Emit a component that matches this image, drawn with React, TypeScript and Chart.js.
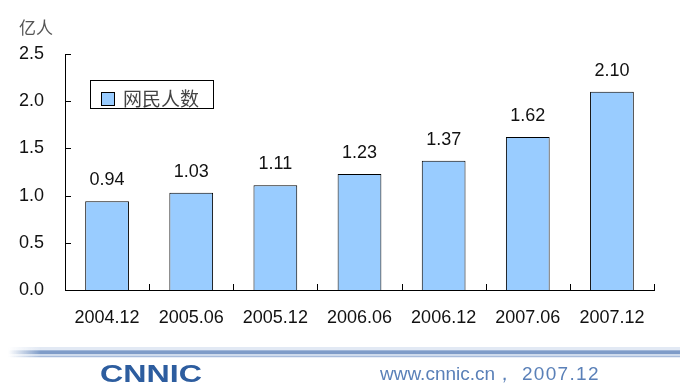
import React, { useEffect, useRef } from "react";
import { Chart, registerables } from "chart.js";

Chart.register(...registerables);

const categories = ["2004.12", "2005.06", "2005.12", "2006.06", "2006.12", "2007.06", "2007.12"];
const netizens = [0.94, 1.03, 1.11, 1.23, 1.37, 1.62, 2.1];
const seriesName = "网民人数";
const yUnit = "亿人";
const footerSite = "www.cnnic.cn，";
const footerDate = "2007.12";
const footerLogo = "CNNIC";

const FONT = "'Liberation Sans', Arial, sans-serif";
const CJK = "'Noto Sans CJK SC', sans-serif";

function hGrad(ctx: CanvasRenderingContext2D, color: string, colorClear: string) {
  const g = ctx.createLinearGradient(0, 0, 680, 0);
  g.addColorStop(0, colorClear);
  g.addColorStop(0.012, colorClear);
  g.addColorStop(0.06, color);
  g.addColorStop(1, color);
  return g;
}

const decorPlugin = {
  id: "decor",
  afterDatasetsDraw(chart: any) {
    const ctx = chart.ctx;
    const meta = chart.getDatasetMeta(0);
    ctx.save();
    ctx.font = `18px ${FONT}`;
    ctx.fillStyle = "#111";
    ctx.textAlign = "center";
    ctx.textBaseline = "middle";
    meta.data.forEach((bar: any, i: number) => {
      ctx.fillText(netizens[i].toFixed(2), bar.x, bar.y - 21);
    });
    ctx.restore();
  },
  afterDraw(chart: any) {
    const ctx = chart.ctx;
    const { left, right, bottom } = chart.chartArea;
    const y = chart.scales.y;
    ctx.save();
    ctx.strokeStyle = "#000";
    ctx.lineWidth = 1;
    // y ticks inside
    y.ticks.forEach((t: any) => {
      const py = Math.round(y.getPixelForValue(t.value)) + 0.5;
      ctx.beginPath();
      ctx.moveTo(left, py);
      ctx.lineTo(left + 6, py);
      ctx.stroke();
    });
    // x ticks at category boundaries
    const n = categories.length;
    for (let i = 1; i <= n; i++) {
      const px = Math.round(left + ((right - left) * i) / n) + 0.5;
      ctx.beginPath();
      ctx.moveTo(px, bottom);
      ctx.lineTo(px, bottom - 6);
      ctx.stroke();
    }
    // y unit title
    ctx.font = `17px ${CJK}`;
    ctx.fillStyle = "#555";
    ctx.textAlign = "left";
    ctx.textBaseline = "middle";
    ctx.fillText(yUnit, 19, 28);
    // legend box
    ctx.fillStyle = "#fff";
    ctx.fillRect(90.5, 80.5, 123, 28);
    ctx.strokeStyle = "#000";
    ctx.strokeRect(90.5, 80.5, 123, 28);
    ctx.fillStyle = "#99CCFF";
    ctx.fillRect(101.5, 92.5, 13, 13);
    ctx.strokeRect(101.5, 92.5, 13, 13);
    ctx.font = `19px ${CJK}`;
    ctx.fillStyle = "#444";
    ctx.textBaseline = "middle";
    ctx.fillText(seriesName, 123, 99);
    // footer lines
    ctx.fillStyle = hGrad(ctx, "#e2e9f4", "rgba(226,233,244,0)");
    ctx.fillRect(0, 347, 680, 3);
    ctx.fillStyle = hGrad(ctx, "#9fb6d8", "rgba(159,182,216,0)");
    ctx.fillRect(0, 350, 680, 1);
    ctx.fillStyle = hGrad(ctx, "#7f9cc8", "rgba(127,156,200,0)");
    ctx.fillRect(0, 351, 680, 3);
    ctx.fillStyle = hGrad(ctx, "#cfdbec", "rgba(207,219,236,0)");
    ctx.fillRect(0, 354, 680, 2);
    ctx.fillStyle = hGrad(ctx, "#a8bcdb", "rgba(168,188,219,0)");
    ctx.fillRect(0, 356, 680, 1);
    ctx.fillStyle = hGrad(ctx, "#e8eef7", "rgba(232,238,247,0)");
    ctx.fillRect(0, 357, 680, 1);
    // logo (stretched wide)
    ctx.save();
    ctx.font = `bold 23px ${FONT}`;
    const lw = ctx.measureText(footerLogo).width;
    ctx.translate(100, 382);
    ctx.scale(102 / lw, 1);
    ctx.fillStyle = "#2d5d9f";
    ctx.textAlign = "left";
    ctx.textBaseline = "alphabetic";
    ctx.fillText(footerLogo, 0, 0);
    ctx.restore();
    // site
    ctx.font = `19px ${FONT}`;
    ctx.fillStyle = "#5a80b8";
    ctx.textAlign = "left";
    ctx.textBaseline = "alphabetic";
    ctx.fillText(footerSite, 380, 380);
    (ctx as any).letterSpacing = "1.3px";
    ctx.fillText(footerDate, 522, 380);
    (ctx as any).letterSpacing = "0px";
    ctx.restore();
  },
};

export default function App() {
  const ref = useRef<HTMLCanvasElement>(null);
  useEffect(() => {
    document.body.style.margin = "0";
    const chart = new Chart(ref.current!, {
      type: "bar",
      data: {
        labels: categories,
        datasets: [
          {
            label: seriesName,
            data: netizens,
            backgroundColor: "#99CCFF",
            borderColor: "#000",
            borderWidth: 1,
            barPercentage: 0.52,
            categoryPercentage: 1,
          },
        ],
      },
      options: {
        responsive: false,
        animation: false,
        layout: { padding: { top: 54, right: 26, bottom: 0, left: 0 } },
        plugins: { legend: { display: false }, tooltip: { enabled: false } },
        scales: {
          x: {
            grid: { display: false, drawTicks: false },
            border: { display: true, color: "#000", width: 1 },
            ticks: { color: "#111", font: { size: 18, family: FONT }, padding: 17, maxRotation: 0 },
            afterFit(s: any) {
              s.height = 102;
            },
          },
          y: {
            min: 0,
            max: 2.5,
            grid: { display: false, drawTicks: false },
            border: { display: true, color: "#000", width: 1 },
            ticks: {
              stepSize: 0.5,
              color: "#111",
              font: { size: 18, family: FONT },
              padding: 21,
              callback: (v: any) => Number(v).toFixed(1),
            },
            afterFit(s: any) {
              s.width = 65;
            },
          },
        },
      },
      plugins: [decorPlugin],
    });
    return () => chart.destroy();
  }, []);
  return (
    <div style={{ position: "fixed", left: 0, top: 0, width: 680, height: 392, background: "#fff" }}>
      <canvas ref={ref} width={680} height={392} style={{ width: 680, height: 392 }} />
    </div>
  );
}
